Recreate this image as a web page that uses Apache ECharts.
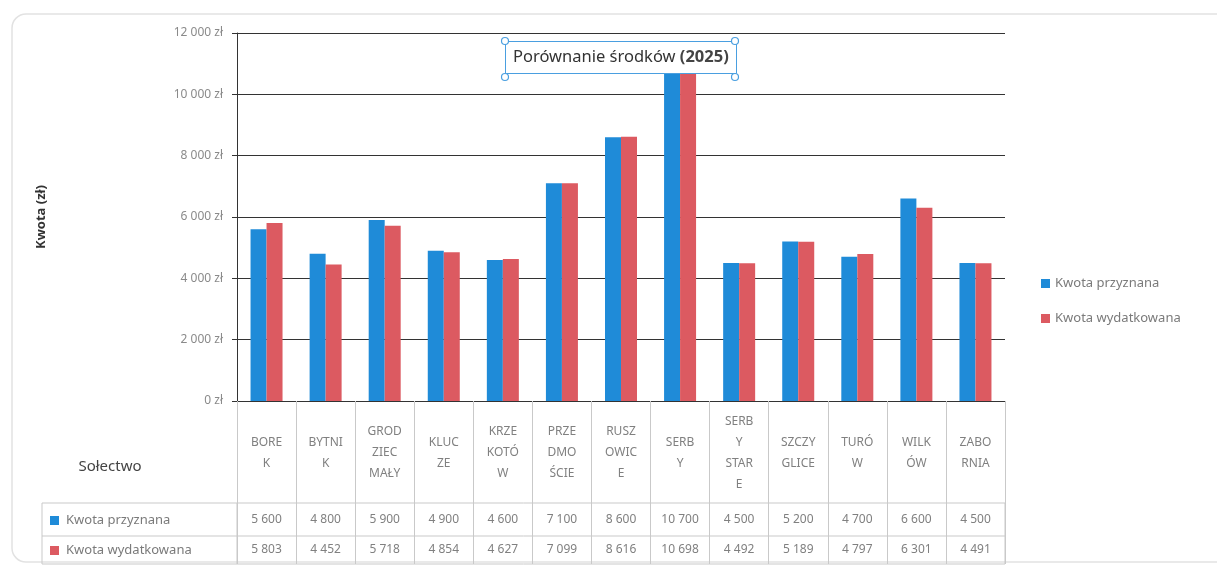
<!DOCTYPE html>
<html>
<head>
<meta charset="utf-8">
<script src="https://cdn.jsdelivr.net/npm/echarts@6/dist/echarts.min.js"></script>
<style>
  html, body { margin: 0; padding: 0; background: #fff; }
  #chart { width: 1217px; height: 568px; }
</style>
</head>
<body>
<div id="chart"></div>
<script>
// sołectwa, wrapped the same way as in the source sheet
const villages = [
  "BORE\nK", "BYTNI\nK", "GROD\nZIEC\nMAŁY", "KLUC\nZE", "KRZE\nKOTÓ\nW",
  "PRZE\nDMO\nŚCIE", "RUSZ\nOWIC\nE", "SERB\nY", "SERB\nY\nSTAR\nE",
  "SZCZY\nGLICE", "TURÓ\nW", "WILK\nÓW", "ZABO\nRNIA"
];
const granted = [5600, 4800, 5900, 4900, 4600, 7100, 8600, 10700, 4500, 5200, 4700, 6600, 4500];
const spent = [5803, 4452, 5718, 4854, 4627, 7099, 8616, 10698, 4492, 5189, 4797, 6301, 4491];
const seriesNames = ["Kwota przyznana", "Kwota wydatkowana"];
const yTicks = [0, 2000, 4000, 6000, 8000, 10000, 12000];

const BLUE = "#1f8bd8";
const RED = "#dc5a61";
const FONT = "'Noto Sans', 'DejaVu Sans', sans-serif";
const LINE = "#c9c9c9";

function fmt(v) {
  return String(v).replace(/\B(?=(\d{3})+(?!\d))/g, " ");
}

const chart = echarts.init(document.getElementById("chart"));

// fixed layout of the plot + table
const G = { left: 237, right: 1005, top: 33, bottom: 401 };
const tableBottom = 564, row1Top = 503, rowMid = 536;

const valueAxis = (vals, margin) => ({
  type: "category",
  data: villages,
  position: "bottom",
  gridIndex: 0,
  axisLine: { show: false },
  axisTick: { show: false },
  axisLabel: {
    interval: 0,
    margin: margin,
    verticalAlign: "middle",
    color: "#808080",
    fontFamily: FONT,
    fontSize: 12,
    formatter: (v, i) => fmt(vals[i])
  }
});

const option = {
  animation: false,
  textStyle: { fontFamily: FONT },
  title: {
    text: "{a|Porównanie środków }{b|(2025)}",
    left: 505,
    top: 41,
    padding: [8, 8, 8, 8],
    backgroundColor: "#fff",
    borderColor: "#4a9fe0",
    borderWidth: 1,
    textStyle: {
      fontWeight: "normal",
      rich: {
        a: { fontFamily: FONT, fontSize: 16.5, fontWeight: "normal", color: "#333" },
        b: { fontFamily: FONT, fontSize: 16.5, fontWeight: "bold", color: "#444" }
      }
    },
    z: 10
  },
  legend: {
    orient: "vertical",
    left: 1036,
    top: 272,
    itemWidth: 9,
    itemHeight: 9,
    itemGap: 22,
    icon: "rect",
    textStyle: { color: "#7a7a7a", fontSize: 13, fontFamily: FONT },
    data: seriesNames
  },
  grid: {
    left: G.left,
    top: G.top,
    width: G.right - G.left,
    height: G.bottom - G.top,
    containLabel: false
  },
  xAxis: [
    {
      type: "category",
      data: villages,
      position: "bottom",
      axisLine: { lineStyle: { color: "#333", width: 1 } },
      axisTick: {
        show: true,
        interval: 0,
        length: tableBottom - G.bottom,
        lineStyle: { color: LINE }
      },
      axisLabel: {
        interval: 0,
        margin: 52,
        verticalAlign: "middle",
        align: "center",
        lineHeight: 21,
        color: "#808080",
        fontSize: 12,
        fontFamily: FONT
      }
    },
    valueAxis(granted, 119),
    valueAxis(spent, 149)
  ],
  yAxis: {
    type: "value",
    min: 0,
    max: 12000,
    interval: 2000,
    name: "Kwota (zł)",
    nameLocation: "middle",
    nameRotate: 90,
    nameGap: 189,
    nameTextStyle: { fontWeight: "bold", fontSize: 13, color: "#333", fontFamily: FONT },
    axisLine: { show: true, lineStyle: { color: "#333" } },
    axisTick: { show: true, length: 5, lineStyle: { color: "#333" } },
    axisLabel: {
      margin: 14,
      color: "#8a8a8a",
      fontSize: 12,
      fontFamily: FONT,
      formatter: v => yTicks.includes(v) ? fmt(v) + " zł" : ""
    },
    splitLine: { show: true, lineStyle: { color: "#333", width: 1.2 } }
  },
  series: [
    {
      name: seriesNames[0],
      type: "bar",
      data: granted,
      barWidth: 16,
      barGap: "0%",
      itemStyle: { color: BLUE }
    },
    {
      name: seriesNames[1],
      type: "bar",
      data: spent,
      barWidth: 16,
      barGap: "0%",
      itemStyle: { color: RED }
    }
  ],
  graphic: [
    // outer frame of the chart object
    {
      type: "rect",
      shape: { x: 12, y: 14, width: 1230, height: 548, r: 14 },
      style: { fill: "none", stroke: "#e2e2e2", lineWidth: 1.5 },
      silent: true
    },
    // data table box
    {
      type: "rect",
      shape: { x: 42, y: row1Top, width: G.right - 42, height: tableBottom - row1Top },
      style: { fill: "none", stroke: LINE, lineWidth: 1 },
      silent: true
    },
    {
      type: "line",
      shape: { x1: 42, y1: rowMid, x2: G.right, y2: rowMid },
      style: { stroke: LINE, lineWidth: 1 },
      silent: true
    },
    {
      type: "line",
      shape: { x1: G.left, y1: row1Top, x2: G.left, y2: tableBottom },
      style: { stroke: LINE, lineWidth: 1 },
      silent: true
    },
    {
      type: "text",
      x: 110,
      y: 467,
      style: {
        text: "Sołectwo",
        fill: "#444",
        font: "15px " + FONT,
        align: "center",
        verticalAlign: "middle"
      }
    },
    // table row headers
    {
      type: "rect",
      shape: { x: 50, y: 516, width: 9, height: 9 },
      style: { fill: BLUE }
    },
    {
      type: "text",
      x: 66,
      y: 520,
      style: {
        text: seriesNames[0],
        fill: "#7a7a7a",
        font: "13px " + FONT,
        verticalAlign: "middle"
      }
    },
    {
      type: "rect",
      shape: { x: 50, y: 546, width: 9, height: 9 },
      style: { fill: RED }
    },
    {
      type: "text",
      x: 66,
      y: 550,
      style: {
        text: seriesNames[1],
        fill: "#7a7a7a",
        font: "13px " + FONT,
        verticalAlign: "middle"
      }
    },
    // selection handles around the title box
    ...[[505, 41], [735, 41], [505, 77], [735, 77]].map(p => ({
      type: "circle",
      shape: { cx: p[0], cy: p[1], r: 3.5 },
      style: { fill: "#fff", stroke: "#4a9fe0", lineWidth: 1.2 },
      z: 20
    }))
  ]
};

chart.setOption(option);
</script>
</body>
</html>
